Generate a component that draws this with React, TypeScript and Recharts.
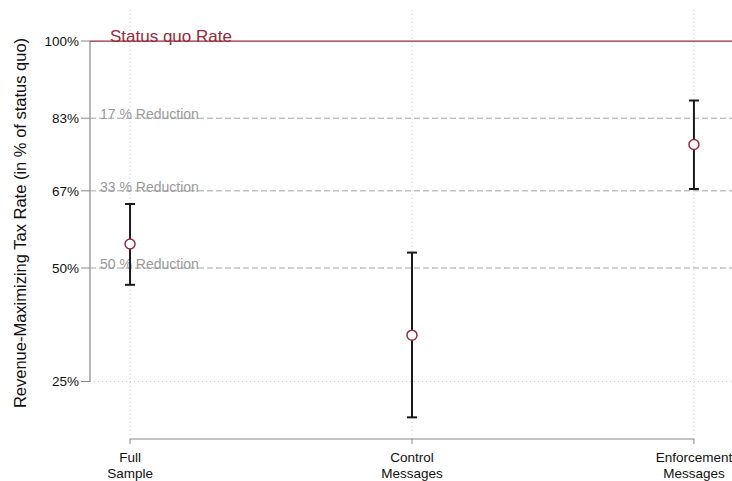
import React from 'react';
import {
  ComposedChart, Scatter, ErrorBar, XAxis, YAxis, ReferenceLine, Label,
} from 'recharts';

// point estimates with 95% confidence bounds, in % of the status quo tax rate
const groups = [['Full', 'Sample'], ['Control', 'Messages'], ['Enforcement', 'Messages']];
const estimates = [55.3, 35.2, 77.2];
const lowerBounds = [46.3, 17.1, 67.4];
const upperBounds = [64.1, 53.4, 86.9];

const yTicks = [25, 50, 67, 83, 100];
const reductionLevels = [83, 67, 50];
const reductionLabels = ['17 % Reduction', '33 % Reduction', '50 % Reduction'];

const FONT = '"Liberation Sans", Arial, Helvetica, sans-serif';
const RED = '#962b3b';
const X_MIN = -0.142;
const X_MAX = 2.135;
const Y_MIN = 12.33;
const Y_MAX = 107.5;

const data = estimates.map((est, i) => ({
  pos: i,
  est,
  ci: [est - lowerBounds[i], upperBounds[i] - est],
}));

const CategoryTick = (props: any) => {
  const { x, y, payload } = props;
  const lines = groups[payload.value] || [];
  return (
    <text x={x} y={y} textAnchor="middle" fontSize={13.5} fill="#111" fontFamily={FONT}>
      {lines.map((line, i) => (
        <tspan key={i} x={x} dy={i === 0 ? 16 : 16}>{line}</tspan>
      ))}
    </text>
  );
};

const lineLabel = (text: string, color: string, size: number, dx: number) => (props: any) => {
  const vb = props.viewBox || {};
  return (
    <text x={vb.x + dx} y={vb.y + 1} fill={color} fontSize={size} fontFamily={FONT}>
      {text}
    </text>
  );
};

const HollowCircle = (props: any) => {
  const { cx, cy } = props;
  return <circle cx={cx} cy={cy} r={5} fill="#fff" stroke={RED} strokeWidth={1.5} />;
};

export default function App() {
  return (
    <div style={{ position: 'absolute', left: 0, top: 0, background: '#fff' }}>
      <ComposedChart
        width={732}
        height={481}
        data={data}
        margin={{ top: 7, right: 0, bottom: 0, left: 0 }}
      >
        <XAxis
          type="number"
          dataKey="pos"
          domain={[X_MIN, X_MAX]}
          ticks={[0, 1, 2]}
          allowDataOverflow
          height={42}
          axisLine={false}
          tickLine={{ stroke: '#888' }}
          tickSize={5}
          tick={<CategoryTick />}
        />
        <YAxis
          type="number"
          domain={[Y_MIN, Y_MAX]}
          ticks={yTicks}
          allowDataOverflow
          width={90}
          axisLine={false}
          tickLine={{ stroke: '#888' }}
          tickSize={9}
          tickMargin={2}
          tickFormatter={(v: number) => `${v}%`}
          tick={{ fontSize: 13.5, fill: '#111', fontFamily: FONT }}
        >
          <Label
            content={(props: any) => {
              const vb = props.viewBox || {};
              const cy = vb.y + vb.height / 2;
              return (
                <text
                  x={26}
                  y={cy}
                  transform={`rotate(-90, 26, ${cy})`}
                  textAnchor="middle"
                  fontSize={16.5}
                  fill="#111"
                  fontFamily={FONT}
                >
                  Revenue-Maximizing Tax Rate (in % of status quo)
                </text>
              );
            }}
          />
        </YAxis>

        {/* dotted guides at each group and at 25% */}
        {groups.map((_, i) => (
          <ReferenceLine key={`v${i}`} x={i} stroke="#cfcfcf" strokeDasharray="1 3" />
        ))}
        <ReferenceLine y={25} stroke="#cfcfcf" strokeDasharray="1 3" />

        {/* axis lines only span the tick range */}
        <ReferenceLine
          segment={[{ x: X_MIN, y: 25 }, { x: X_MIN, y: 100 }]}
          stroke="#888"
          strokeWidth={1.2}
        />
        <ReferenceLine
          segment={[{ x: 0, y: Y_MIN }, { x: 2, y: Y_MIN }]}
          stroke="#888"
          strokeWidth={1.2}
        />

        {reductionLevels.map((lvl, i) => (
          <ReferenceLine
            key={`r${lvl}`}
            y={lvl}
            stroke="#a5a5a5"
            strokeDasharray="6 3"
            label={lineLabel(reductionLabels[i], '#9a9a9a', 14, 10)}
          />
        ))}
        <ReferenceLine
          y={100}
          stroke={RED}
          strokeWidth={1.3}
          label={lineLabel('Status quo Rate', RED, 17, 20)}
        />

        <Scatter dataKey="est" shape={<HollowCircle />} isAnimationActive={false}>
          <ErrorBar dataKey="ci" direction="y" width={5} stroke="#1a1a1a" strokeWidth={2} />
        </Scatter>
      </ComposedChart>
    </div>
  );
}
